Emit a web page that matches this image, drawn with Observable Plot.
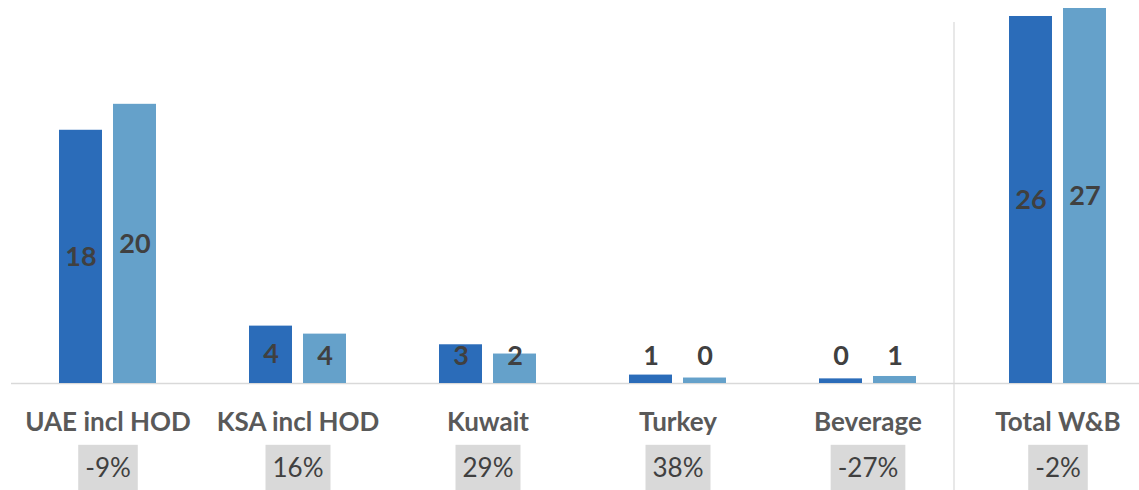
<!DOCTYPE html>
<html>
<head>
<meta charset="utf-8">
<script src="https://cdn.jsdelivr.net/npm/d3@7"></script>
<script src="https://cdn.jsdelivr.net/npm/@observablehq/plot@0.6"></script>
<style>
  html, body { margin: 0; padding: 0; background: #fff; overflow: hidden; }
  #chart { width: 1139px; height: 490px; overflow: hidden; }
</style>
</head>
<body>
<div id="chart"></div>
<script>
const categories = ["UAE incl HOD", "KSA incl HOD", "Kuwait", "Turkey", "Beverage", "Total W&B"];
const currentValues = [18.05, 4.09, 2.76, 0.6, 0.33, 26.16];
const priorValues = [19.9, 3.52, 2.1, 0.39, 0.5, 26.73];
const currentLabels = ["18", "4", "3", "1", "0", "26"];
const priorLabels = ["20", "4", "2", "0", "1", "27"];
const changeLabels = ["-9%", "16%", "29%", "38%", "-27%", "-2%"];

const darkBlue = "#2B6CB9";
const lightBlue = "#65A1CA";
const labelMin = 1.92;

const cur = categories.map((c, i) => ({cat: c, v: currentValues[i], label: currentLabels[i]}));
const pri = categories.map((c, i) => ({cat: c, v: priorValues[i], label: priorLabels[i]}));
const chg = categories.map((c, i) => ({cat: c, label: changeLabels[i]}));

const font = "Lato, 'Open Sans', sans-serif";

const chart = Plot.plot({
  width: 1139,
  height: 490,
  marginLeft: 11,
  marginRight: 0,
  marginTop: 22,
  marginBottom: 0,
  style: {fontFamily: font, background: "#fff", overflow: "hidden"},
  x: {domain: categories, range: [10.75, 1153.75], paddingInner: 0.776, paddingOuter: 0.388, axis: null},
  y: {domain: [0, 27.3], range: [383, 0], axis: null},
  marks: [
    Plot.ruleX(["Total W&B"], {x: d => d, dx: -104, stroke: "#D9D9D9", strokeWidth: 1.2}),
    Plot.ruleY([0], {stroke: "#D9D9D9", strokeWidth: 1.5}),
    Plot.barY(cur, {x: "cat", y: "v", fill: darkBlue, dx: -27}),
    Plot.barY(pri, {x: "cat", y: "v", fill: lightBlue, dx: 27}),
    Plot.text(cur, {x: "cat", y: d => Math.max(d.v / 2, labelMin), text: "label", dx: -27,
      fill: "#404040", fontWeight: "bold", fontSize: 27, lineAnchor: "middle"}),
    Plot.text(pri, {x: "cat", y: d => Math.max(d.v / 2, labelMin), text: "label", dx: 27,
      fill: "#404040", fontWeight: "bold", fontSize: 27, lineAnchor: "middle"}),
    Plot.text(categories, {x: d => d, frameAnchor: "bottom", dy: -68, text: d => d,
      fill: "#595959", fontWeight: "bold", fontSize: 26, lineAnchor: "middle"}),
    Plot.text(chg, {x: "cat", frameAnchor: "bottom", dy: -22, text: "label",
      fill: "#404040", fontSize: 26, lineAnchor: "middle"})
  ]
});

document.getElementById("chart").appendChild(chart);

// grey boxes behind the change labels
const svgNS = "http://www.w3.org/2000/svg";
const pctTexts = Array.from(chart.querySelectorAll("text")).filter(t => changeLabels.includes(t.textContent));
if (pctTexts.length) {
  const group = pctTexts[0].parentNode;
  const boxes = document.createElementNS(svgNS, "g");
  pctTexts.forEach(t => {
    const b = t.getBBox();
    const m = t.getCTM();
    const r = document.createElementNS(svgNS, "rect");
    const x0 = b.x + (m ? m.e : 0);
    const y0 = b.y + (m ? m.f : 0);
    r.setAttribute("x", x0 - 7);
    r.setAttribute("y", y0 + b.height / 2 - 22);
    r.setAttribute("width", b.width + 14);
    r.setAttribute("height", 60);
    r.setAttribute("fill", "#D9D9D9");
    boxes.appendChild(r);
  });
  group.parentNode.insertBefore(boxes, group);
}
</script>
</body>
</html>
